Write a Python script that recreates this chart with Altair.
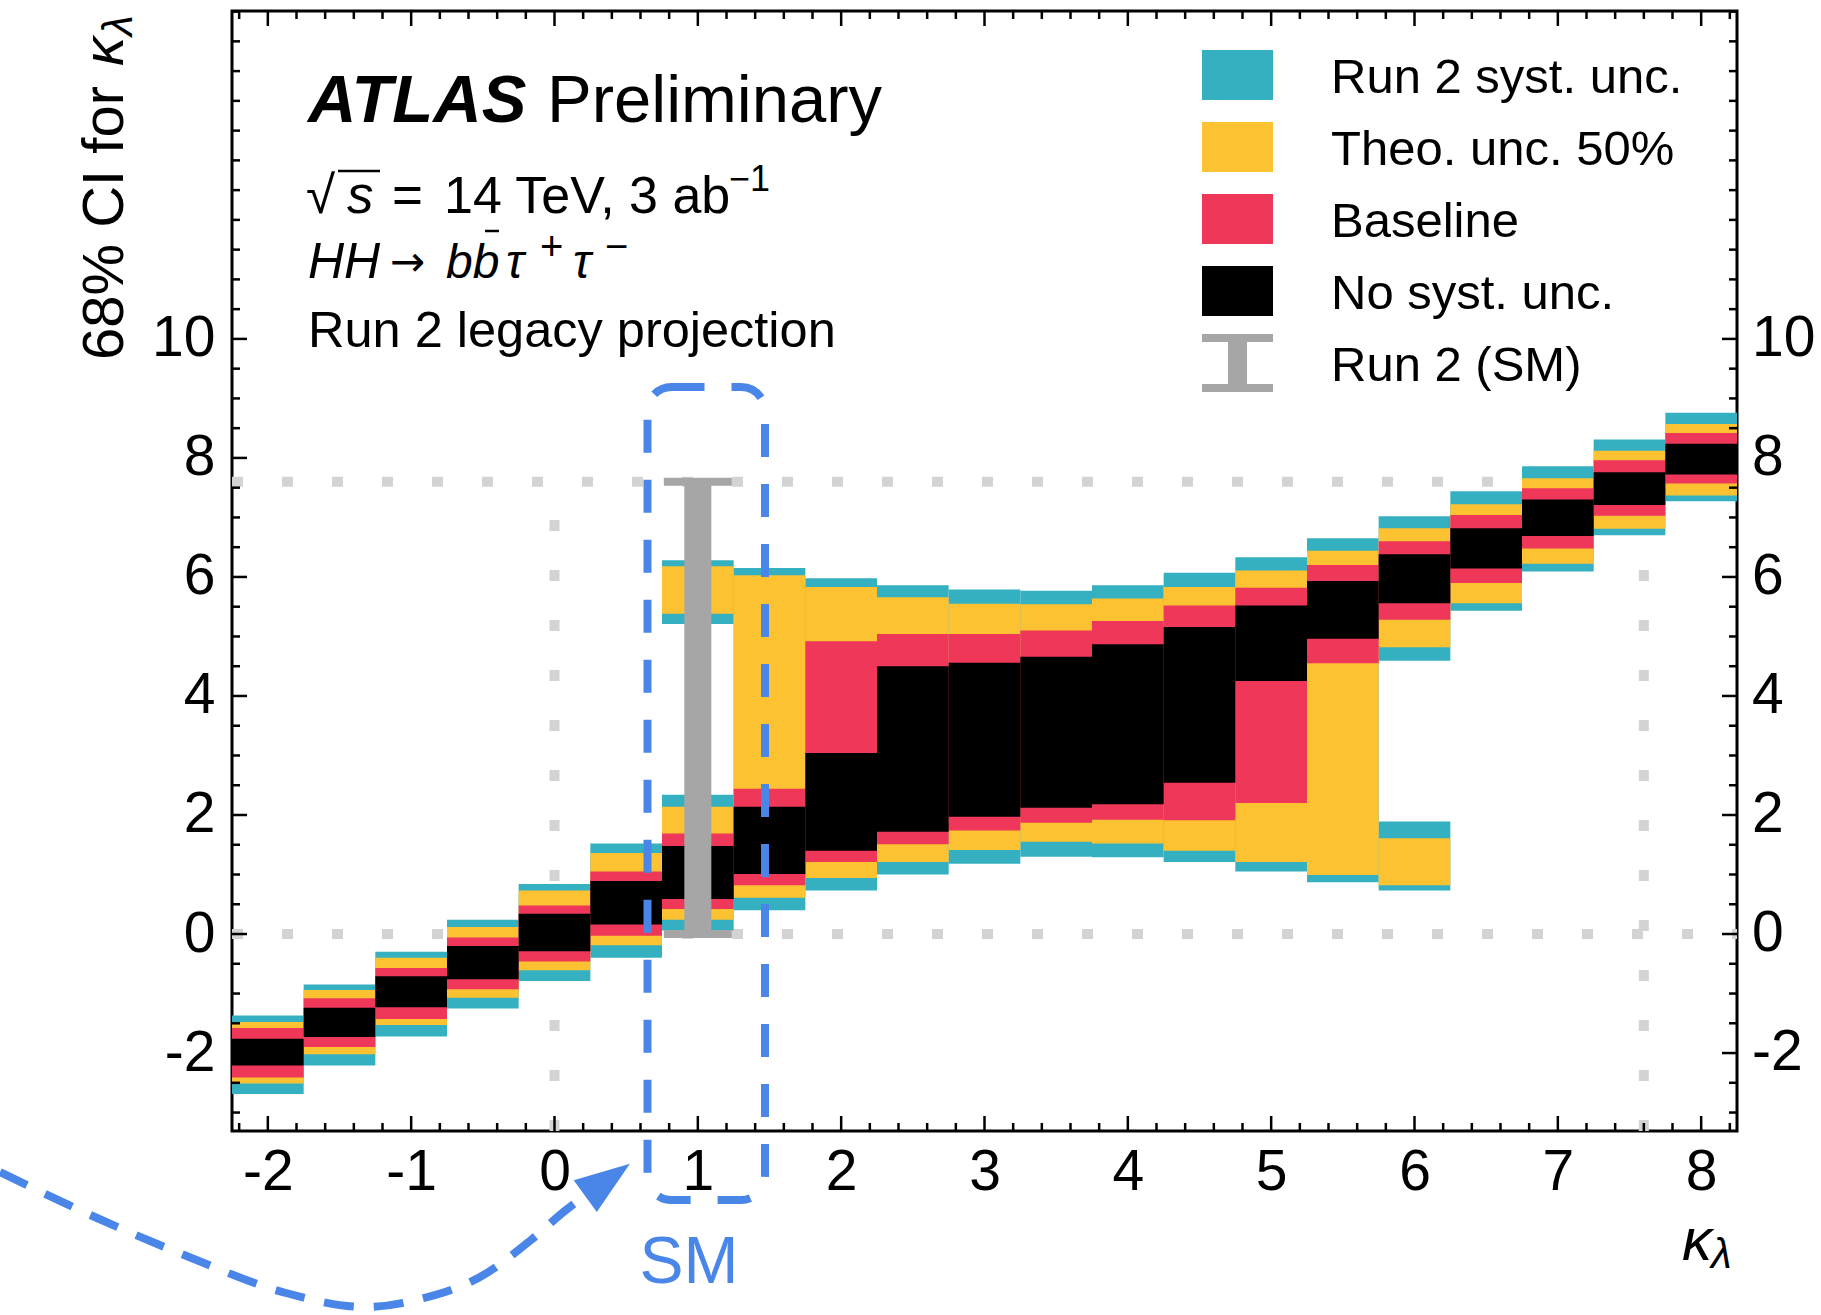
import altair as alt
import pandas as pd
import numpy as np

# ---------------- data ----------------
kl = [-2.0, -1.5, -1.0, -0.5, 0.0, 0.5, 1.0, 1.5, 2.0, 2.5, 3.0,
      3.5, 4.0, 4.5, 5.0, 5.5, 6.0, 6.5, 7.0, 7.5, 8.0]

nosyst_lo = [-2.21, -1.73, -1.23, -0.76, -0.29, 0.16, 0.59, 1.01, 1.40, 1.72, 1.97,
             2.12, 2.18, 2.54, 4.25, 4.96, 5.56, 6.14, 6.69, 7.21, 7.72]
nosyst_hi = [-1.76, -1.24, -0.71, -0.20, 0.34, 0.89, 1.48, 2.14, 3.04, 4.50, 4.56,
             4.66, 4.87, 5.16, 5.52, 5.93, 6.38, 6.82, 7.30, 7.76, 8.24]
base_lo = [-2.41, -1.90, -1.43, -0.93, -0.46, -0.03, 0.42, 0.82, 1.21, 1.51, 1.74,
           1.87, 1.92, 1.91, 2.20, 4.55, 5.28, 5.90, 6.48, 7.03, 7.57]
base_hi = [-1.58, -1.08, -0.57, -0.06, 0.48, 1.05, 1.69, 2.44, 4.92, 5.04, 5.04,
           5.10, 5.26, 5.52, 5.82, 6.20, 6.60, 7.04, 7.49, 7.96, 8.42]
theo_lo = [-2.51, -2.02, -1.53, -1.07, -0.61, -0.19, 0.24, 0.61, 0.94, 1.21, 1.41,
           1.55, 1.52, 1.40, 1.21, 0.99, 4.82, 5.56, 6.22, 6.81, 7.37]
theo_hi = [-1.48, -0.94, -0.40, 0.12, 0.73, 1.36, 2.14, 6.03, 5.83, 5.66, 5.55,
           5.54, 5.64, 5.83, 6.11, 6.44, 6.82, 7.22, 7.66, 8.12, 8.57]
run2_lo = [-2.69, -2.21, -1.72, -1.25, -0.79, -0.40, 0.06, 0.40, 0.73, 1.00, 1.18,
           1.30, 1.29, 1.21, 1.05, 0.87, 4.59, 5.43, 6.09, 6.70, 7.27]
run2_hi = [-1.37, -0.85, -0.30, 0.24, 0.84, 1.52, 2.34, 6.15, 5.98, 5.86, 5.79,
           5.77, 5.86, 6.07, 6.33, 6.65, 7.02, 7.44, 7.86, 8.31, 8.76]

# second (disjoint) pieces of the interval
extra_kl = [1.0, 6.0]
theo_extra_lo = [5.38, 0.82]
theo_extra_hi = [6.18, 1.61]
run2_extra_lo = [5.21, 0.73]
run2_extra_hi = [6.28, 1.89]

# Run 2 (SM) interval
sm_kl = 1.0
sm_lo = 0.0
sm_hi = 7.6

# reference (dotted) lines
ref_vals = [0.0, 7.6]

x_tick_vals = [-2, -1, 0, 1, 2, 3, 4, 5, 6, 7, 8]
y_tick_vals = [-2, 0, 2, 4, 6, 8, 10]

legend_labels = ["Run 2 syst. unc.", "Theo. unc. 50%", "Baseline", "No syst. unc.", "Run 2 (SM)"]

# ---------------- style / layout ----------------
CYAN = "#35b0c0"
YELLOW = "#fcc232"
RED = "#ef375a"
BLACK = "#000000"
GREY = "#a6a6a6"
DOT = "#d3d3d3"
BLUE = "#4a86e8"
FONT = "Liberation Sans"

XDOM = [-2.25, 8.25]
YDOM = [-3.31, 15.51]
LEFT, TOP, W, H = 232, 11, 1505, 1120
PPX = W / (XDOM[1] - XDOM[0])
PPY = H / (YDOM[1] - YDOM[0])


def dx(px):
    return XDOM[0] + (px - LEFT) / PPX


def dy(py):
    return YDOM[1] - (py - TOP) / PPY


xs = alt.Scale(domain=XDOM, nice=False, zero=False)
ys = alt.Scale(domain=YDOM, nice=False, zero=False)
XAX = alt.Axis(values=x_tick_vals, labelExpr="datum.value + ''", title=None)
YAX = alt.Axis(values=y_tick_vals, labelExpr="datum.value + ''", title=None)


def X(f="x"):
    return alt.X(f"{f}:Q", scale=xs, axis=XAX, title=None)


def Y(f="y"):
    return alt.Y(f"{f}:Q", scale=ys, axis=YAX, title=None)


def rects(df, **mk):
    return alt.Chart(df).mark_rect(**mk).encode(
        x=X(), x2="x2:Q", y=Y(), y2="y2:Q")


def rules(df, **mk):
    return alt.Chart(df).mark_rule(**mk).encode(
        x=X(), x2="x2:Q", y=Y(), y2="y2:Q")


def txt(s, px, py, size, color="black", style="normal", weight="normal",
        align="left", angle=0, baseline="alphabetic", font=FONT):
    df = pd.DataFrame({"x": [dx(px)], "y": [dy(py)], "t": [s]})
    kw = dict(align=align, baseline=baseline, fontSize=size, font=font,
              color=color, fontStyle=style, fontWeight=weight)
    if angle:
        kw["angle"] = angle
    return alt.Chart(df).mark_text(**kw).encode(x=X(), y=Y(), text="t:N")


HALF = 0.25  # half bin width


def band_df(lo, hi, centers):
    return pd.DataFrame({"x": [c - HALF for c in centers],
                         "x2": [c + HALF for c in centers],
                         "y": lo, "y2": hi})


layers = []

# dotted reference lines
dots = pd.DataFrame({
    "x": [XDOM[0], XDOM[0], ref_vals[0], ref_vals[1]],
    "x2": [XDOM[1], XDOM[1], ref_vals[0], ref_vals[1]],
    "y": [ref_vals[1], ref_vals[0], YDOM[0], YDOM[0]],
    "y2": [ref_vals[1], ref_vals[0], ref_vals[1], ref_vals[1]],
})
layers.append(rules(dots, color=DOT, strokeWidth=10, strokeDash=[11, 39], strokeCap="butt"))

# nested interval bands
layers.append(rects(pd.concat([band_df(run2_lo, run2_hi, kl),
                               band_df(run2_extra_lo, run2_extra_hi, extra_kl)]), color=CYAN))
layers.append(rects(pd.concat([band_df(theo_lo, theo_hi, kl),
                               band_df(theo_extra_lo, theo_extra_hi, extra_kl)]), color=YELLOW))
layers.append(rects(band_df(base_lo, base_hi, kl), color=RED))
layers.append(rects(band_df(nosyst_lo, nosyst_hi, kl), color=BLACK))

# Run 2 (SM) error bar
stem_half = 13.5 / PPX
cap_half = 34 / PPX
cap_th = 4 / PPY
sm = pd.DataFrame({
    "x": [sm_kl - stem_half, sm_kl - cap_half, sm_kl - cap_half],
    "x2": [sm_kl + stem_half, sm_kl + cap_half, sm_kl + cap_half],
    "y": [sm_lo, sm_hi - cap_th, sm_lo - cap_th],
    "y2": [sm_hi, sm_hi + cap_th, sm_lo + cap_th],
})
layers.append(rects(sm, color=GREY))

# inward ticks on all four sides
MAJ, MIN = 15, 8
xmin_t = [round(v, 2) for v in np.arange(-2.2, 8.21, 0.2) if abs(v - round(v)) > 1e-6]
ymin_t = [v for v in np.arange(-3.0, 15.51, 0.5) if v not in y_tick_vals]
rows = []
for v, ln in [(v, MAJ) for v in x_tick_vals] + [(v, MIN) for v in xmin_t]:
    rows.append((v, v, YDOM[0], YDOM[0] + ln / PPY))
    rows.append((v, v, YDOM[1], YDOM[1] - ln / PPY))
for v, ln in [(v, MAJ) for v in y_tick_vals] + [(v, MIN) for v in ymin_t]:
    rows.append((XDOM[0], XDOM[0] + ln / PPX, v, v))
    rows.append((XDOM[1], XDOM[1] - ln / PPX, v, v))
ticks = pd.DataFrame(rows, columns=["x", "x2", "y", "y2"])
layers.append(rules(ticks, color="black", strokeWidth=2.5))

# right-hand tick labels
rlab = pd.DataFrame({"x": [XDOM[1]] * len(y_tick_vals), "y": y_tick_vals,
                     "t": [str(v) for v in y_tick_vals]})
layers.append(alt.Chart(rlab).mark_text(align="left", baseline="middle", dx=15,
                                        fontSize=57, font=FONT, color="black")
              .encode(x=X(), y=Y(), text="t:N"))

# ---------------- texts ----------------
layers += [
    txt("ATLAS", 308, 122, 67, style="italic", weight="bold"),
    txt("Preliminary", 547, 122, 67),
    txt("√", 306, 213, 53),
    txt("s", 347, 213, 53, style="italic"),
    txt("=", 392, 213, 53),
    txt("14 TeV, 3 ab", 444, 213, 52),
    txt("−1", 729, 191, 36),
    txt("HH", 308, 278, 50, style="italic"),
    txt("→", 390, 276, 42, font="DejaVu Sans"),
    txt("bb", 446, 278, 48, style="italic"),
    txt("τ", 506, 278, 48, style="italic"),
    txt("+", 540, 260, 40),
    txt("τ", 573, 278, 48, style="italic"),
    txt("−", 605, 260, 40),
    txt("Run 2 legacy projection", 308, 347, 50.5),
    # axis titles
    txt("68% CI for", 123, 360, 58, angle=270),
    txt("κ", 123, 66, 58, style="italic", angle=270),
    txt("λ", 132, 36, 42, style="italic", angle=270),
    txt("κ", 1682, 1260, 60, style="italic"),
    txt("λ", 1711, 1268, 42, style="italic"),
]
# overline of sqrt(s) and bar of b
bars = pd.DataFrame({"x": [dx(338), dx(485)], "x2": [dx(380), dx(499)],
                     "y": [dy(171), dy(231)], "y2": [dy(171), dy(231)]})
layers.append(rules(bars, color="black", strokeWidth=2.5))

# ---------------- legend ----------------
sw_x0, sw_x1 = 1202, 1273
row_top0, pitch, sw_h = 50, 72, 50
leg = pd.DataFrame({
    "x": [dx(sw_x0)] * 4, "x2": [dx(sw_x1)] * 4,
    "y": [dy(row_top0 + i * pitch) for i in range(4)],
    "y2": [dy(row_top0 + i * pitch + sw_h) for i in range(4)],
    "c": [CYAN, YELLOW, RED, BLACK],
})
layers.append(alt.Chart(leg).mark_rect().encode(
    x=X(), x2="x2:Q", y=Y(), y2="y2:Q", color=alt.Color("c:N", scale=None)))
cy = row_top0 + 4 * pitch + sw_h / 2
ibeam = pd.DataFrame({
    "x": [dx(sw_x0), dx(1228), dx(sw_x0)],
    "x2": [dx(sw_x1), dx(1247), dx(sw_x1)],
    "y": [dy(cy - 29), dy(cy - 21), dy(cy + 21)],
    "y2": [dy(cy - 21), dy(cy + 21), dy(cy + 29)],
})
layers.append(rects(ibeam, color=GREY))
for i, lab in enumerate(legend_labels):
    layers.append(txt(lab, 1331, row_top0 + i * pitch + sw_h / 2 + 18, 49))

# ---------------- blue annotation ----------------
box = pd.DataFrame({"x": [dx(647.5)], "x2": [dx(765)], "y": [dy(387)], "y2": [dy(1200)]})
layers.append(rects(box, filled=False, stroke=BLUE, strokeWidth=8,
                    strokeDash=[33, 27], cornerRadius=24))
curve_px = [(0, 1172), (97, 1218), (189, 1257), (286, 1293), (365, 1307),
            (424, 1298), (480, 1277), (531, 1240), (566, 1210), (585, 1196)]
curve = pd.DataFrame({"x": [dx(p[0]) for p in curve_px], "y": [dy(p[1]) for p in curve_px]})
layers.append(alt.Chart(curve).mark_line(color=BLUE, strokeWidth=8, strokeDash=[30, 20],
                                         interpolate="monotone", strokeCap="butt")
              .encode(x=X(), y=Y()))
head = pd.DataFrame({"x": [dx(602)], "y": [dy(1184)]})
layers.append(alt.Chart(head).mark_point(shape="M0,-1L0.57,0.6L-0.57,0.6Z", size=4761,
                                         filled=True, color=BLUE, opacity=1, angle=54,
                                         strokeWidth=0)
              .encode(x=X(), y=Y()))
layers.append(txt("SM", 689, 1283, 66, color=BLUE, align="center"))

chart = alt.layer(*layers).properties(
    width=W, height=H,
    autosize=alt.AutoSizeParams(type="none"),
    padding={"left": LEFT, "top": TOP, "right": 1821 - LEFT - W, "bottom": 1315 - TOP - H},
    background="white",
).configure_axis(
    labelFont=FONT, labelFontSize=57, labelColor="black", ticks=False, tickSize=0,
    domain=False, grid=False, labelFlush=False, labelOverlap=False,
).configure_axisX(labelPadding=13).configure_axisY(labelPadding=17).configure_view(
    stroke="black", strokeWidth=3)

chart.save("out.html", embed_options={"renderer": "svg", "actions": False})
